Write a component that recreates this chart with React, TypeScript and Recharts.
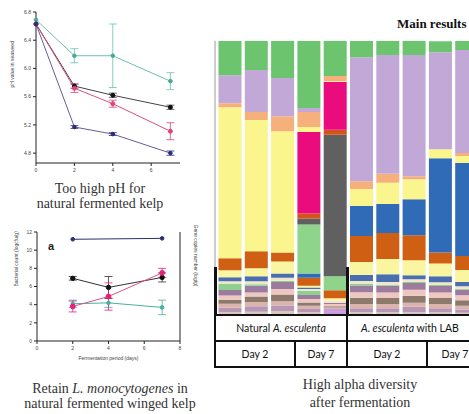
import React from "react";
import { LineChart, Line, XAxis, YAxis, ErrorBar, BarChart, Bar } from "recharts";

// pH during fermentation (top left)
const phDays = [0, 2, 4, 7];
const phTeal = [6.69, 6.18, 6.18, 5.82];
const phTealErr = [0, 0.1, 0.45, 0.12];
const phBlack = [6.63, 5.75, 5.62, 5.45];
const phBlackErr = [0, 0.03, 0.03, 0.03];
const phPink = [6.63, 5.72, 5.5, 5.11];
const phPinkErr = [0, 0.06, 0.05, 0.12];
const phNavy = [6.63, 5.17, 5.07, 4.8];
const phNavyErr = [0, 0.02, 0.02, 0.03];
const phTicks = [4.8, 5.2, 5.6, 6.0, 6.4, 6.8];
const phDayTicks = [0, 2, 4, 6];

// bacterial counts (bottom left)
const countDays = [2, 4, 7];
const countNavy = [11.2, null, 11.3];
const countBlack = [6.9, 5.9, 7.0];
const countBlackErr = [0.2, 1.2, 0.5];
const countPink = [3.8, 4.9, 7.5];
const countPinkErr = [0.6, 1.5, 0.5];
const countTeal = [4.1, 4.2, 3.7];
const countTealErr = [0.4, 0.5, 0.8];
const countTicks = [0, 1, 2, 3, 4, 5, 6, 7, 8, 9, 10, 11, 12];
const countDayTicks = [0, 2, 4, 6, 8];

// relative abundance (right), one value per sample
const samples = ["N2a", "N2b", "N2c", "N7a", "N7b", "L2a", "L2b", "L2c", "L7a", "L7b"];
const green = [12.5, 10.7, 13.6, 24.5, 12.9, 5.9, 5.2, 5.2, 4.0, 3.4];
const lavender = [10.2, 15.3, 13.9, 1.5, 0, 45.2, 43.3, 44.2, 35.4, 37.5];
const peach = [1.5, 2.9, 5.5, 5.5, 1.8, 2.9, 3.3, 1.1, 0, 1.1];
const yellow = [55, 47.9, 44.2, 1.8, 0.3, 6.2, 7.7, 7.3, 3.3, 2.6];
const pink = [0, 0, 0, 29.7, 17.5, 0, 0, 0, 0, 0];
const redOrange = [0, 0, 0, 1.8, 1.8, 0, 0, 0, 0, 0];
const darkGrey = [0, 0, 0, 2.2, 51.6, 0, 0, 0, 0, 0];
const lightGreen = [0, 0, 0, 17.9, 5.1, 0, 0, 0, 0, 0];
const blue = [0, 0, 0, 1.5, 0, 10.9, 10.6, 13.1, 34.3, 33.9];
const orangeBrown = [4.4, 6.2, 3.3, 2.9, 2.9, 9.5, 9.5, 9.1, 4.0, 5.1];
const paleYellow = [2.5, 2.9, 4.4, 0.7, 0.8, 4.7, 5.5, 5.5, 4.7, 4.4];
const blueThin = [1.5, 1.8, 1.5, 0.5, 0, 2.2, 2.9, 1.5, 2.2, 1.5];
const cream = [1.0, 1.1, 1.1, 0.7, 0.8, 1.1, 1.0, 1.0, 1.0, 1.0];
const greenThin = [2.2, 0.5, 0.5, 1.5, 0, 0.5, 0.3, 0.3, 0.3, 0.3];
const mauve = [2, 2.5, 2.5, 1.5, 0.5, 2.5, 2.5, 2.5, 2.4, 2];
const lightPink = [1.5, 1.5, 2, 1.2, 0.8, 2, 2, 2.2, 2, 1.8];
const greyBrown = [1.5, 2, 2.5, 1.2, 0.5, 2.3, 2.2, 2.5, 2.2, 2];
const pinkBeige = [1.5, 1.5, 1.5, 1.2, 0.5, 1.5, 1.5, 1.5, 1.5, 1.4];
const mauveLight = [1.5, 2, 2, 1.2, 0, 1.5, 1.5, 2, 1.5, 1.2];
const beige = [1.1, 1.2, 1.5, 1, 0, 1, 1, 1, 1, 0.8];
const lilac = [0, 0, 0, 0, 2.2, 0, 0, 0, 0, 0];
const pctTicks = [0, 10, 20, 30, 40, 50, 60, 70, 80, 90, 100];

// bottom of the stack first
const taxa: [string, number[], string][] = [
  ["lilac", lilac, "#c99de0"],
  ["beige", beige, "#d9c6bd"],
  ["mauveLight", mauveLight, "#b896b6"],
  ["pinkBeige", pinkBeige, "#dcb4ae"],
  ["greyBrown", greyBrown, "#8d7a6c"],
  ["lightPink", lightPink, "#efc6c0"],
  ["mauve", mauve, "#9b7c9e"],
  ["greenThin", greenThin, "#8fd08f"],
  ["cream", cream, "#f0e6cc"],
  ["blueThin", blueThin, "#4a6fae"],
  ["paleYellow", paleYellow, "#faf5a0"],
  ["orangeBrown", orangeBrown, "#cf5f12"],
  ["blue", blue, "#2f6bb6"],
  ["lightGreen", lightGreen, "#8ed58b"],
  ["darkGrey", darkGrey, "#606060"],
  ["redOrange", redOrange, "#d4521c"],
  ["pink", pink, "#ea0b7c"],
  ["yellow", yellow, "#fbf58e"],
  ["peach", peach, "#f6b07c"],
  ["lavender", lavender, "#c2a8d6"],
  ["green", green, "#6cc56e"],
];

const phData = phDays.map((day, i) => ({
  day,
  teal: phTeal[i], tealErr: phTealErr[i],
  black: phBlack[i], blackErr: phBlackErr[i],
  pink: phPink[i], pinkErr: phPinkErr[i],
  navy: phNavy[i], navyErr: phNavyErr[i],
}));

const countData = countDays.map((day, i) => ({
  day,
  navy: countNavy[i],
  black: countBlack[i], blackErr: countBlackErr[i],
  pink: countPink[i], pinkErr: countPinkErr[i],
  teal: countTeal[i], tealErr: countTealErr[i],
}));

const barData = samples.map((name, i) => {
  const row: Record<string, any> = { name };
  taxa.forEach(([key, vals]) => (row[key] = vals[i]));
  return row;
});

const tiny = { fontSize: 5, fill: "#444", fontFamily: "Liberation Sans" };
const serif = "'Liberation Serif', serif";
const sans = "Lato, 'Liberation Sans', sans-serif";

const cell = (left: number, top: number, width: number, height: number): React.CSSProperties => ({
  position: "absolute", left, top, width, height, boxSizing: "border-box",
  border: "2px solid #111", display: "flex", alignItems: "center", justifyContent: "center",
  fontFamily: sans, fontSize: 10.5, color: "#111", background: "#fff", whiteSpace: "nowrap",
});

export default function App() {
  return (
    <div style={{ position: "fixed", left: 0, top: 0, width: 469, height: 414, overflow: "hidden", background: "#fff" }}>
      <div style={{ position: "absolute", left: 0, top: 0 }}>
        <LineChart width={200} height={180} data={phData} margin={{ top: 12, right: 20, bottom: 0, left: 0 }}>
          <XAxis dataKey="day" type="number" domain={[0, 7.5]} ticks={phDayTicks} height={17}
            tick={tiny} tickSize={3} stroke="#222" />
          <YAxis width={36} domain={[4.66, 6.8]} ticks={phTicks} tick={tiny} tickSize={3} stroke="#222"
            tickFormatter={(v: number) => v.toFixed(1)}
            label={{ value: "pH value in seaweed", angle: -90, position: "insideLeft", offset: 12, style: tiny }} />
          <Line dataKey="teal" stroke="#6cc0b2" strokeWidth={1} dot={{ r: 1.8, fill: "#4aa898", stroke: "#4aa898" }} isAnimationActive={false}>
            <ErrorBar dataKey="tealErr" width={4} stroke="#6cc0b2" strokeWidth={0.8} direction="y" />
          </Line>
          <Line dataKey="black" stroke="#444" strokeWidth={1} dot={{ r: 2, fill: "#111", stroke: "#111" }} isAnimationActive={false}>
            <ErrorBar dataKey="blackErr" width={4} stroke="#444" strokeWidth={0.8} direction="y" />
          </Line>
          <Line dataKey="pink" stroke="#d8507f" strokeWidth={1} dot={{ r: 2, fill: "#e0457a", stroke: "#e0457a" }} isAnimationActive={false}>
            <ErrorBar dataKey="pinkErr" width={4} stroke="#e0457a" strokeWidth={0.8} direction="y" />
          </Line>
          <Line dataKey="navy" stroke="#6a5c98" strokeWidth={1} dot={{ r: 1.8, fill: "#2b2f7a", stroke: "#2b2f7a" }} isAnimationActive={false}>
            <ErrorBar dataKey="navyErr" width={4} stroke="#2b2f7a" strokeWidth={0.8} direction="y" />
          </Line>
        </LineChart>
      </div>

      <div style={{ position: "absolute", left: 20, top: 180.5, width: 160, textAlign: "center", fontFamily: serif, fontSize: 14, lineHeight: "15px", color: "#333" }}>
        Too high pH for<br />natural fermented kelp
      </div>

      <div style={{ position: "absolute", left: 0, top: 225 }}>
        <LineChart width={200} height={137} data={countData} margin={{ top: 7, right: 0, bottom: 0, left: 0 }}>
          <XAxis dataKey="day" type="number" domain={[0, 8]} ticks={countDayTicks} height={21}
            tick={tiny} tickSize={3} stroke="#222"
            label={{ value: "Fermentation period (days)", position: "insideBottom", offset: 2, style: tiny }} />
          <YAxis yAxisId="left" width={37} domain={[0, 12]} ticks={countTicks} tick={tiny} tickSize={3} stroke="#222"
            label={{ value: "Bacterial count (logcfu/g)", angle: -90, position: "insideLeft", offset: 16, style: tiny }} />
          <YAxis yAxisId="right" orientation="right" width={20} domain={[0, 12]} ticks={countTicks} tick={tiny} tickSize={3} stroke="#222"
            label={{ value: "Gene copies number (log/g)", angle: 90, position: "insideRight", offset: 4, style: tiny }} />
          <Line yAxisId="left" dataKey="navy" connectNulls stroke="#2b2f6e" strokeWidth={1} dot={{ r: 1.8, fill: "#2b2f6e", stroke: "#2b2f6e" }} isAnimationActive={false} />
          <Line yAxisId="left" dataKey="teal" stroke="#4ab0a0" strokeWidth={1} dot={{ r: 1.8, fill: "#4ab0a0", stroke: "#4ab0a0" }} isAnimationActive={false}>
            <ErrorBar dataKey="tealErr" width={4} stroke="#4ab0a0" strokeWidth={0.8} direction="y" />
          </Line>
          <Line yAxisId="left" dataKey="black" stroke="#333" strokeWidth={1} dot={{ r: 2.2, fill: "#111", stroke: "#111" }} isAnimationActive={false}>
            <ErrorBar dataKey="blackErr" width={4} stroke="#333" strokeWidth={0.8} direction="y" />
          </Line>
          <Line yAxisId="left" dataKey="pink" stroke="#e0508a" strokeWidth={1} dot={{ r: 2.4, fill: "#e8207a", stroke: "#e8207a" }} isAnimationActive={false}>
            <ErrorBar dataKey="pinkErr" width={4} stroke="#e8207a" strokeWidth={0.8} direction="y" />
          </Line>
        </LineChart>
      </div>
      <div style={{ position: "absolute", left: 48, top: 240, fontFamily: "'Liberation Sans', sans-serif", fontWeight: "bold", fontSize: 11, color: "#222" }}>a</div>

      <div style={{ position: "absolute", left: 10, top: 381, width: 200, textAlign: "center", fontFamily: serif, fontSize: 14, lineHeight: "15px", color: "#333" }}>
        Retain <i>L. monocytogenes</i> in<br />natural fermented winged kelp
      </div>

      <div style={{ position: "absolute", left: 397, top: 16, fontFamily: serif, fontWeight: "bold", fontSize: 13, whiteSpace: "nowrap", color: "#111" }}>
        Main results
      </div>

      <div style={{ position: "absolute", left: 200, top: 30 }}>
        <BarChart width={280} height={285} data={barData} barSize={23} margin={{ top: 10.7, right: 0.5, bottom: 0, left: 0 }}>
          <XAxis dataKey="name" hide padding={{ left: 1.5, right: 0 }} />
          <YAxis width={15} domain={[0, 100]} ticks={pctTicks} allowDataOverflow tick={false} tickSize={3} stroke="#999" />
          {taxa.map(([key, , color]) => (
            <Bar key={key} dataKey={key} stackId="a" fill={color} isAnimationActive={false} />
          ))}
        </BarChart>
      </div>

      <div style={{ position: "absolute", left: 214, top: 267, width: 2.5, height: 50, background: "#111" }} />
      <div style={{ position: "absolute", left: 346, top: 267, width: 2.5, height: 50, background: "#111" }} />
      <div style={cell(214, 314, 134, 28)}>Natural&nbsp;<i>A. esculenta</i></div>
      <div style={cell(346, 314, 128, 28)}><i>A. esculenta</i>&nbsp;with LAB</div>
      <div style={cell(214, 340, 82, 28)}>Day 2</div>
      <div style={cell(294, 340, 54, 28)}>Day 7</div>
      <div style={cell(346, 340, 82, 28)}>Day 2</div>
      <div style={cell(426, 340, 58, 28)}>Day 7</div>

      <div style={{ position: "absolute", left: 280, top: 376, width: 160, textAlign: "center", fontFamily: serif, fontSize: 14, lineHeight: "18px", color: "#333" }}>
        High alpha diversity<br />after fermentation
      </div>
    </div>
  );
}
